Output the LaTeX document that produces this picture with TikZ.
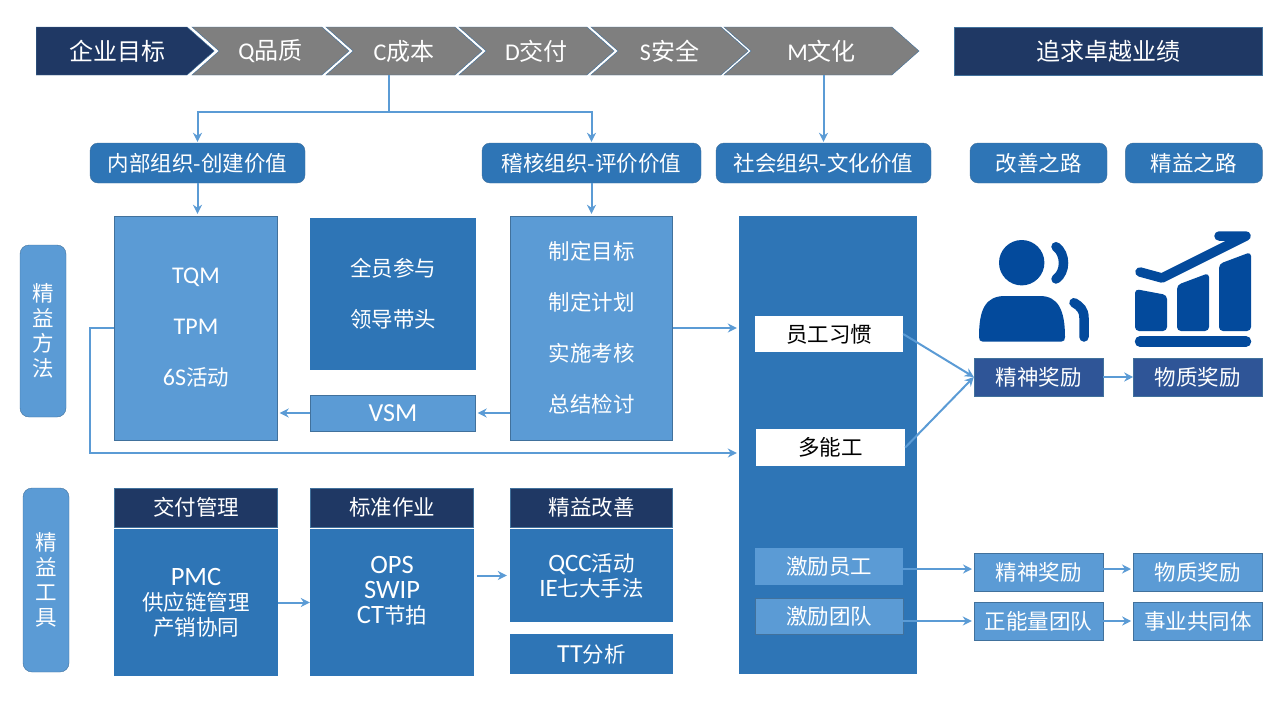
\documentclass[tikz,border=0pt]{standalone}
\usepackage{fontspec}
\setmainfont{Noto Sans CJK SC}
\newfontfamily\latinfont{Carlito}
\newcommand{\la}[2][24]{{\latinfont\fontsize{#1}{25}\selectfont #2}}
\usepackage{xcolor}
\usetikzlibrary{arrows.meta,positioning,shapes.symbols}
\definecolor{navy}{HTML}{1F3864}
\definecolor{steel}{HTML}{2E75B6}
\definecolor{sky}{HTML}{5B9BD5}
\definecolor{edgeblue}{HTML}{41719C}
\definecolor{midnavy}{HTML}{2F5597}
\definecolor{chevgray}{HTML}{7F7F7F}
\definecolor{iconblue}{HTML}{034A9C}

\begin{document}
\begin{tikzpicture}[x=1pt,y=-1pt,>={Stealth[length=9pt,width=9pt]},
    every node/.style={inner sep=0pt,align=center,text=white,font=\fontsize{21.5}{25}\selectfont},
    chevron/.style={signal,signal to=east,signal from=west,signal pointer angle=83,draw=edgeblue,fill=chevgray,
      minimum height=48pt,font=\fontsize{24}{28}\selectfont},
    goalbox/.style={draw=edgeblue,fill=navy,font=\fontsize{24}{28}\selectfont},
    groupbox/.style={rounded corners=8pt,fill=steel,draw=edgeblue,minimum height=40pt},
    sidebox/.style={rounded corners=9pt,fill=sky,draw=edgeblue,minimum width=46pt},
    lightbox/.style={draw=edgeblue,fill=sky},
    darkbox/.style={fill=steel},
    headbox/.style={draw=edgeblue,fill=navy,minimum width=163pt,minimum height=39pt},
    whitebox/.style={fill=white,text=black},
    rewardbox/.style={draw=edgeblue,fill=sky,minimum width=129pt,minimum height=38pt},
    wide/.style={font=\fontsize{21.5}{51}\selectfont},
    link/.style={->,sky,line width=2pt,shorten >=2pt},
    icon/.style={iconblue,line width=9.5pt,line cap=round}]

  \useasboundingbox (0,0) rectangle (1274,710);

  % top row
  \node[chevron] (quality) [minimum width=157pt] at (270.5,51) {\la{Q}品质};
  \node[chevron] (cost) [minimum width=156pt] at (404,51) {\la{C}成本};
  \node[chevron] (delivery) [minimum width=155pt] at (536.5,51) {\la{D}交付};
  \node[chevron] (safety) [minimum width=157pt] at (669.5,51) {\la{S}安全};
  \node[chevron] (morale) [minimum width=195pt] at (821.5,51) {\la{M}文化};
  \node[chevron,signal from=nowhere,fill=navy] (goal) [minimum width=178pt,anchor=west] at (36,51) {\hspace*{12pt}企业目标};
  \node[goalbox,minimum width=308pt,minimum height=48pt] (pursuit) at (1108,51) {追求卓越业绩};

  % organisations
  \node[groupbox,minimum width=215pt] (inner) at (197.5,163) {内部组织-创建价值};
  \node[groupbox,minimum width=219pt] (audit) at (591.5,163) {稽核组织-评价价值};
  \node[groupbox,minimum width=215pt] (social) at (823.5,163) {社会组织-文化价值};
  \node[groupbox,minimum width=137pt] (kaizen) at (1038.5,163) {改善之路};
  \node[groupbox,minimum width=137pt] (leanroad) [right =18pt of kaizen] {精益之路};
  \coordinate (split) at (389,112);

  % lean methods
  \node[sidebox,minimum height=172pt] (methods) at (43,331) {精\\益\\方\\法};
  \node[lightbox,wide,minimum width=163pt,minimum height=224pt] (tqm) at (196,328)
    {\la{TQM}\\\la{TPM}\\\la{6S}活动};
  \node[darkbox,wide,minimum width=166pt,minimum height=152pt] (allstaff) at (393,294)
    {全员参与\\领导带头};
  \node[lightbox,wide,minimum width=162pt,minimum height=224pt] (plan) at (591.5,328)
    {制定目标\\制定计划\\实施考核\\总结检讨};
  \node[lightbox,minimum width=165pt,minimum height=36pt] (vsm) at (393,413) {\la[26]{VSM}};

  % lean tools
  \node[sidebox,minimum height=184pt] (tools) at (46,580) {精\\益\\工\\具};
  \node[headbox] (deliver) at (196,507.5) {交付管理};
  \node[headbox] (standard) at (392,507.5) {标准作业};
  \node[headbox,minimum width=162pt] (improve) at (591.5,507.5) {精益改善};
  \node[darkbox,minimum width=164pt,minimum height=147pt] (pmc) at (196,602.5)
    {\la[26.5]{PMC}\\供应链管理\\产销协同};
  \node[darkbox,minimum width=164pt,minimum height=147pt] (ops) at (392,602.5)
    {\la[26.5]{OPS}\\\la[26.5]{SWIP}\\\la[26.5]{CT}节拍\\~};
  \node[darkbox,minimum width=163pt,minimum height=93pt] (qcc) at (591.5,575.5)
    {\la[25]{QCC}活动\\\la[25]{IE}七大手法};
  \node[darkbox,minimum width=163pt,minimum height=40pt] (ttana) at (591.5,654) {\la[26]{TT}分析};

  % culture column
  \node[darkbox,minimum width=178pt,minimum height=458pt] (culture) at (828,445) {};
  \node[whitebox,minimum width=148pt,minimum height=36pt] (habit) at (829,334) {员工习惯};
  \node[whitebox,minimum width=149pt,minimum height=37pt] (multi) at (830.5,447.5) {多能工};
  \node[fill=sky,minimum width=148pt,minimum height=37pt] (staffup) at (829,566.5) {激励员工};
  \node[lightbox,minimum width=148pt,minimum height=36pt] (teamup) at (829,616) {激励团队};

  % rewards
  \node[rewardbox,fill=midnavy] (spirit) at (1038.5,377) {精神奖励};
  \node[rewardbox,fill=midnavy] (goods) [right =30pt of spirit] {物质奖励};
  \node[rewardbox] (spiritb) at (1038.5,572) {精神奖励};
  \node[rewardbox] (goodsb) [right =30pt of spiritb] {物质奖励};
  \node[rewardbox] (energy) at (1038.5,621) {正能量团队};
  \node[rewardbox] (career) [right =30pt of energy] {事业共同体};
  \coordinate (spiritin) at (974,569);
  \coordinate (goodsin) at (1133,569);
  \coordinate (tqmbend) at (90,453);

  % connectors
  \draw[link,shorten >=1pt] (cost.south -| split) -- (split) -| (inner.north);
  \draw[link,shorten >=1pt] (split) -| (audit.north);
  \draw[link,shorten >=1pt] (social.north |- morale.south) -- (social.north);
  \draw[link] (inner.south) -- (inner.south |- tqm.north);
  \draw[link] (audit.south -| plan.north) -- (plan.north);
  \draw[link] (plan.east) -- (plan.east -| culture.west);
  \draw[link] (plan.west |- vsm.east) -- (vsm.east);
  \draw[link] (vsm.west) -- (vsm.west -| tqm.east);
  \draw[link] (tqm.west) -| (tqmbend) -- (tqmbend -| culture.west);
  \draw[link,shorten >=0pt] (pmc.east) -- (ops.west);
  \draw[link,shorten <=3pt,shorten >=3pt] (ops.east |- qcc.west) -- (qcc.west);
  \draw[link,shorten >=0pt] (habit.east) -- (spirit.west);
  \draw[link,shorten >=0pt] (multi.east) -- (spirit.west);
  \draw[link,shorten >=0pt] (spirit.east) -- (goods.west);
  \draw[link] (staffup.east |- spiritin) -- (spiritin);
  \draw[link] (spiritb.east |- goodsin) -- (goodsin);
  \draw[link] (teamup.east |- energy.west) -- (energy.west);
  \draw[link] (energy.east) -- (career.west);

  % person icon
  \fill[iconblue] (1021.7,262.7) circle (22.7);
  \fill[iconblue] (979,337) .. controls (979,310) and (985,296) .. (1005,296) -- (1040,296)
    .. controls (1058,296) and (1065,310) .. (1065,337) .. controls (1065,340) and (1064,341.7) .. (1061,341.7)
    -- (983,341.7) .. controls (980,341.7) and (979,340) .. cycle;
  \draw[icon] (1056,246.7) .. controls (1066,254) and (1066,272) .. (1056,279);
  \draw[icon] (1074,302.7) .. controls (1080,306) and (1084,310) .. (1084,318) -- (1084,337);

  % chart icon
  \fill[iconblue,rounded corners=4pt] (1135,289) -- (1167,295) -- (1167,331) -- (1135,331) -- cycle;
  \fill[iconblue,rounded corners=4pt] (1177,285) -- (1209,273) -- (1209,331) -- (1177,331) -- cycle;
  \fill[iconblue,rounded corners=4pt] (1219,264) -- (1251,252) -- (1251,331) -- (1219,331) -- cycle;
  \draw[icon,line width=10.5pt] (1140,341.5) -- (1246,341.5);
  \draw[icon,line width=9.5pt,line join=round] (1140,272) -- (1162,278) -- (1246,236) -- (1219,236);

\end{tikzpicture}
\end{document}
